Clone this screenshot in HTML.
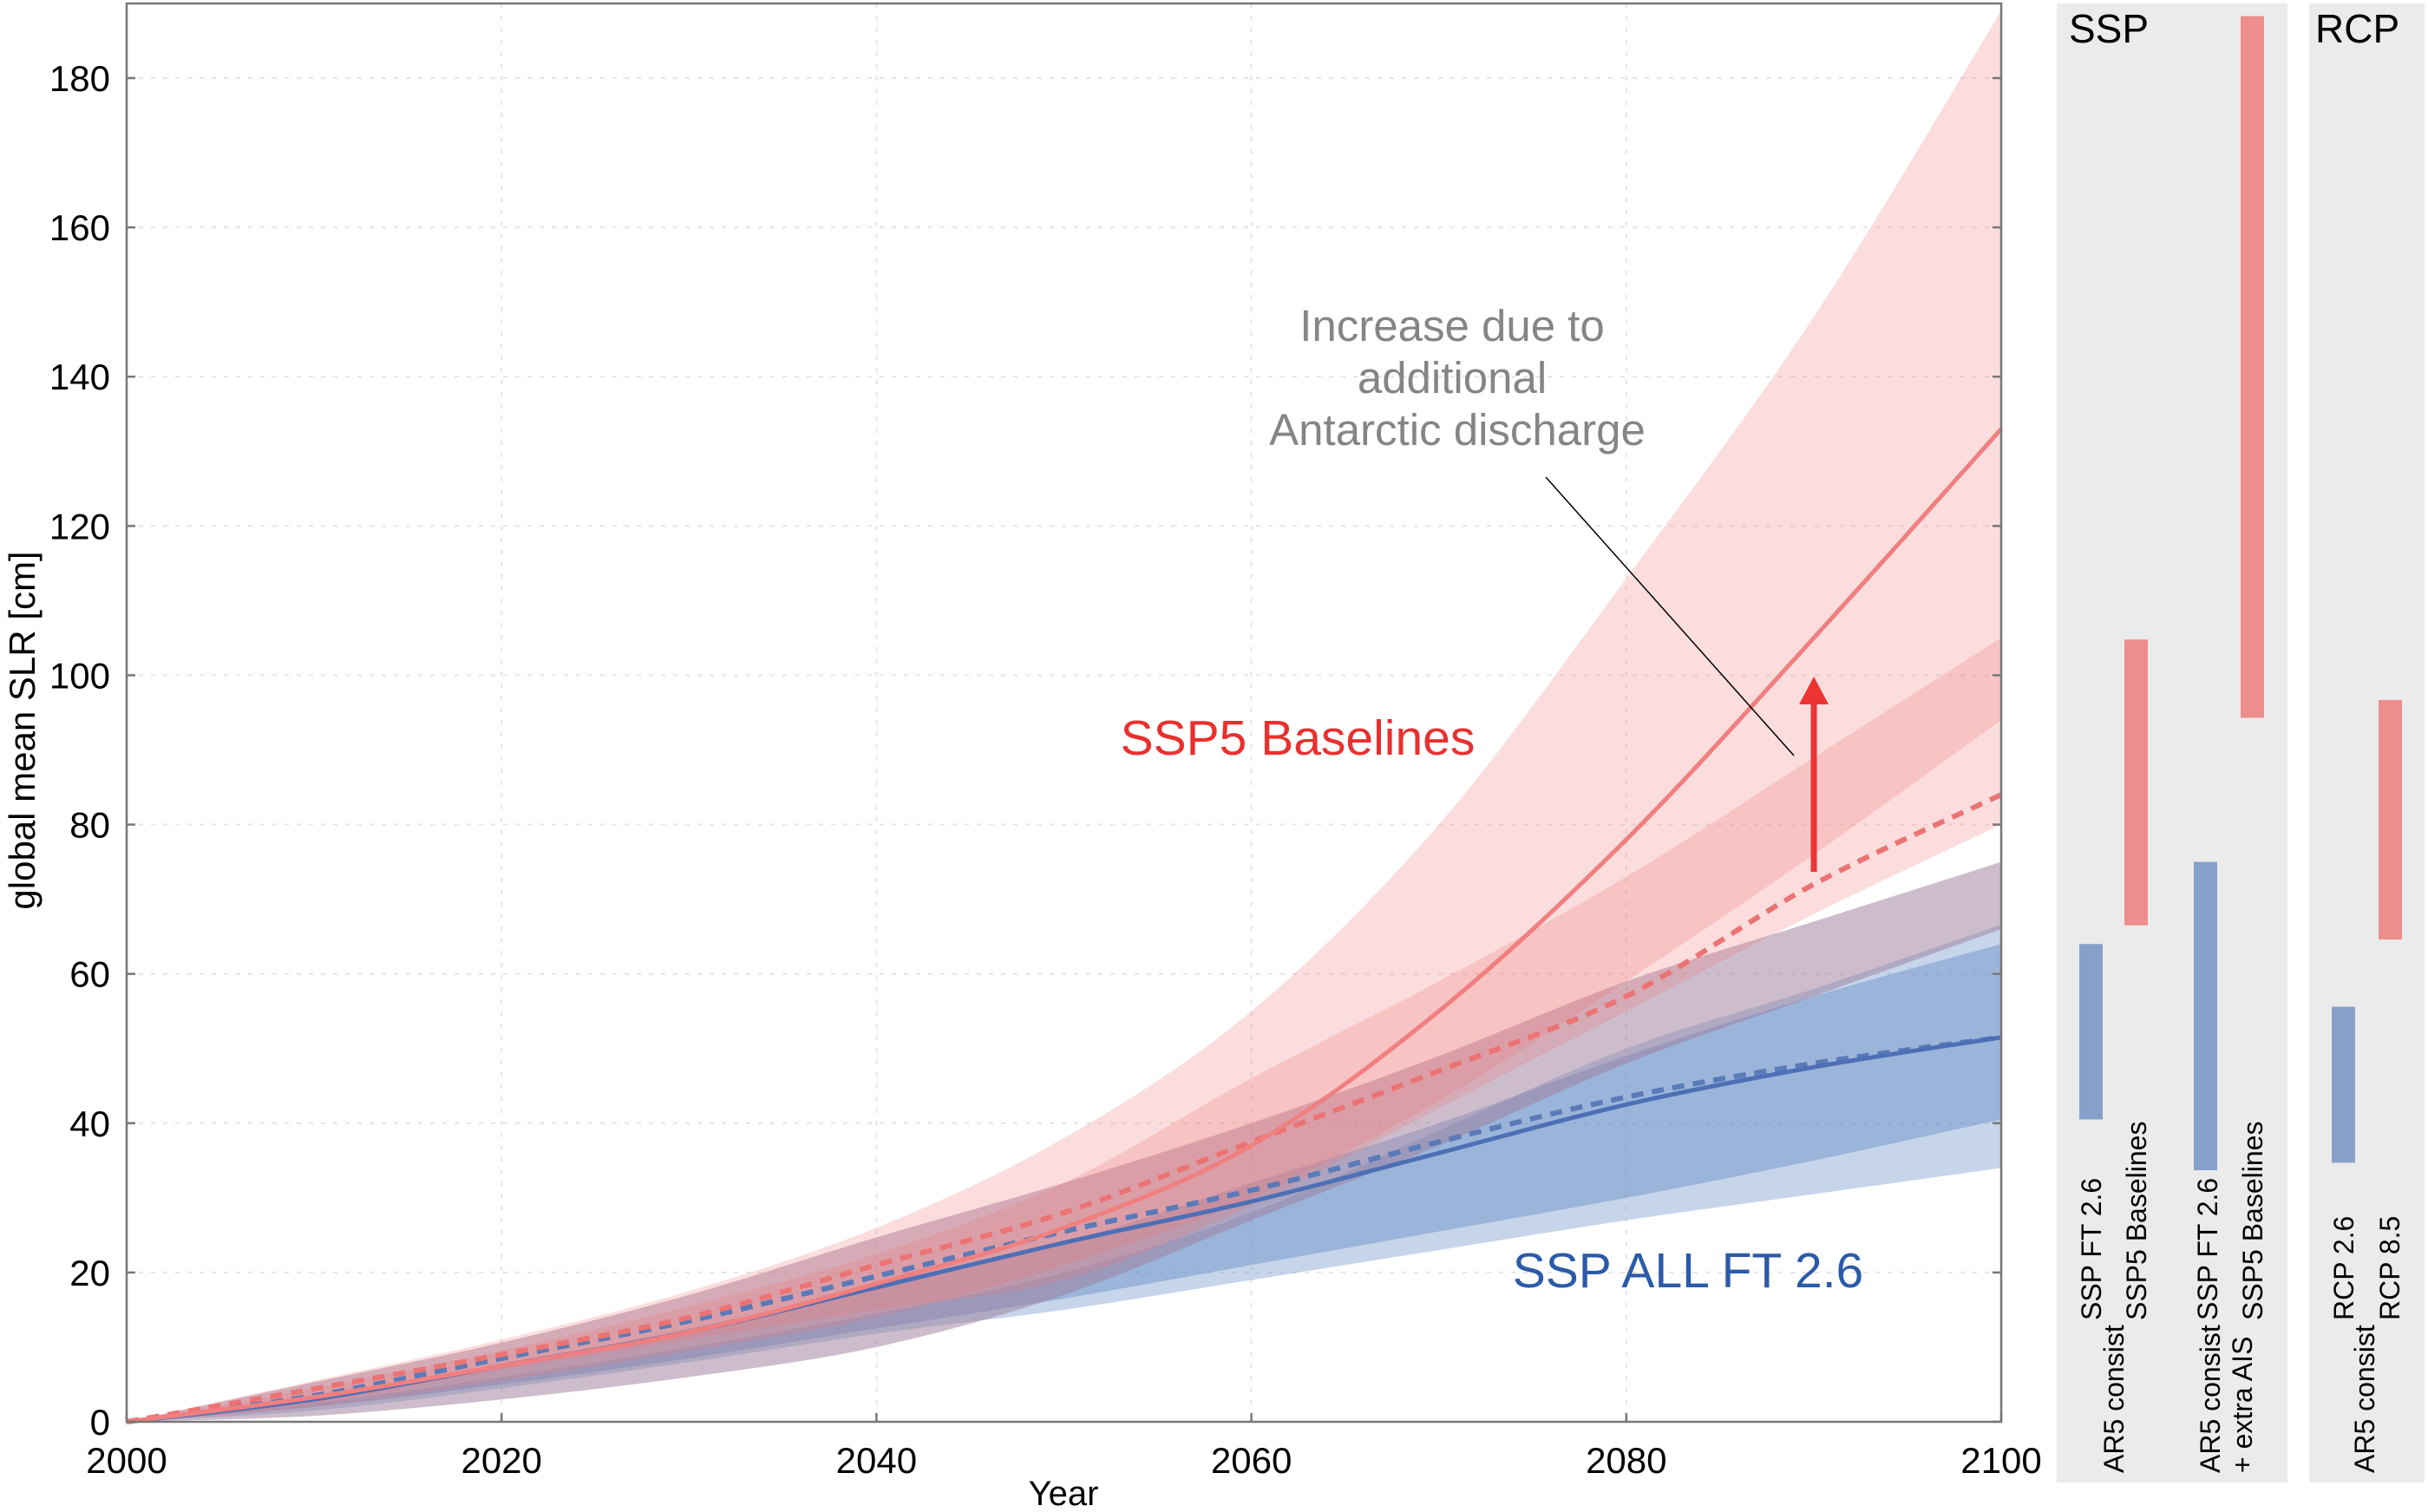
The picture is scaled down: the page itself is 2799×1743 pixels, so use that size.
<!DOCTYPE html>
<html><head><meta charset="utf-8">
<style>
html,body{margin:0;padding:0;background:#fff;}
svg{display:block;font-family:"Liberation Sans",Arial,sans-serif;}
</style></head>
<body>
<svg id="chart" xmlns="http://www.w3.org/2000/svg" width="2799" height="1743" viewBox="0 0 2799 1743">
<rect x="0" y="0" width="2799" height="1743" fill="#fff"/>
<g id="grid"></g>
<g id="bands"></g>
<g id="lines"></g>
<g id="axes"></g>
<g id="side"></g>
<text x="1674" y="393" font-size="51" fill="#858585" text-anchor="middle">Increase due to</text>
<text x="1674" y="453" font-size="51" fill="#858585" text-anchor="middle">additional</text>
<text x="1680" y="513" font-size="51" fill="#858585" text-anchor="middle">Antarctic discharge</text>
<line x1="1782" y1="550" x2="2068" y2="871" stroke="#000" stroke-width="1.5"/>
<line x1="2091" y1="1005" x2="2091" y2="810" stroke="#ee3333" stroke-width="7"/>
<polygon points="2074,812 2108,812 2091,780" fill="#ee3333"/>
<text x="1496" y="870" font-size="57" fill="#e8312f" text-anchor="middle">SSP5 Baselines</text>
<text x="1946" y="1484" font-size="57" fill="#2b5aa8" text-anchor="middle">SSP ALL FT 2.6</text>
<text transform="translate(40,842) rotate(-90)" font-size="42" fill="#000" text-anchor="middle">global mean SLR [cm]</text>
<text x="1226" y="1735" font-size="40" fill="#000" text-anchor="middle">Year</text>
</svg>
<script>
const years = [2000,2010,2020,2030,2040,2050,2060,2070,2080,2090,2100];
const blueOuterUpper = [0,2.5,6,10,14.5,20,28,39,50,58,66.6];
const blueOuterLower = [0,1.5,4.5,8,11.8,15,19,23,27,30.5,34];
const blueInnerUpper = [0,3,7.5,12.5,18,24,32,40,49,57,64];
const blueInnerLower = [0,2,5,8.5,12.5,16.5,21,25.5,30,35,40.5];
const purpleUpper = [0,5.3,10.6,17,24.7,32,40,49,59,67,75];
const purpleLower = [0,0.8,3,6,10,17,27,37,48,57,66];
const redAisUpper = [0,5.5,11,17.5,26,38,55,80,113,148,189];
const redAisLower = [0,2,5.5,9.5,14,21,30,43,59,76,94];
const redNoAisUpper = [0,4.5,9.5,15.5,22.5,32,46,59,73,89,105];
const redNoAisLower = [0,2.5,7,11,15,19,29,42,55,68,80];
const redMedianAis = [0,3.3,7.5,12,18.5,26,37,55,78,105,133];
const redMedianNoAis = [0,4.4,9,14,21,28,37.5,47,57,72,84];
const blueMedian = [0,3,7.5,12,18,24,29.5,36,42.5,47.5,51.5];
const blueMedianAis = [0,3.5,8.5,13.5,19.5,25.5,31,37.5,43.5,48,51.5];
const yTicks = [0,20,40,60,80,100,120,140,160,180];
const xTicks = [2000,2020,2040,2060,2080,2100];
const barLabelsTop = ["SSP FT 2.6","SSP5 Baselines","SSP FT 2.6","SSP5 Baselines","RCP 2.6","RCP 8.5"];
const barLow = [40.5,66.5,33.7,94.3,34.7,64.6];
const barHigh = [64,104.8,75,188.3,55.6,96.7];
const barKind = ["blue","red","blue","red","blue","red"];

const NS="http://www.w3.org/2000/svg";
const X0=146,X1=2307,Y0=1639,PX=(Y0-90)/180;
function sx(yr){return X0+(yr-2000)*(X1-X0)/100;}
function sy(v){return Y0-v*PX;}
function mk(tag,attrs,parent){const e=document.createElementNS(NS,tag);for(const k in attrs)e.setAttribute(k,attrs[k]);parent.appendChild(e);return e;}
function curve(p){
  let d='';
  for(let i=0;i<p.length-1;i++){
    const a=p[Math.max(i-1,0)],b=p[i],c=p[i+1],e=p[Math.min(i+2,p.length-1)];
    const c1=[b[0]+(c[0]-a[0])/6,b[1]+(c[1]-a[1])/6],c2=[c[0]-(e[0]-b[0])/6,c[1]-(e[1]-b[1])/6];
    d+=' C'+c1[0].toFixed(1)+','+c1[1].toFixed(1)+' '+c2[0].toFixed(1)+','+c2[1].toFixed(1)+' '+c[0].toFixed(1)+','+c[1].toFixed(1);
  }
  return d;
}
function smooth(vals){
  const p=vals.map((v,i)=>[sx(years[i]),sy(v)]);
  return 'M'+p[0][0]+','+p[0][1]+curve(p);
}
function bandPath(up,lo){
  const yrsRev=years.slice().reverse();
  const p=lo.slice().reverse().map((v,i)=>[sx(yrsRev[i]),sy(v)]);
  return smooth(up)+' L'+p[0][0]+','+p[0][1]+curve(p)+' Z';
}
const grid=document.getElementById('grid');
yTicks.forEach(t=>{
  const l=mk('line',{x1:X0,x2:X1,y1:sy(t),y2:sy(t),stroke:'#e4e4e4','stroke-width':2,'stroke-dasharray':'5,9'},grid);
  
  
});
xTicks.forEach(t=>{
  const l=mk('line',{x1:sx(t),x2:sx(t),y1:4,y2:Y0,stroke:'#e4e4e4','stroke-width':2,'stroke-dasharray':'5,9'},grid);
  
  
});
const bands=document.getElementById('bands');
const bandDefs=[
 ['blue-outer-band',blueOuterUpper,blueOuterLower,'rgba(120,155,205,0.42)'],
 ['blue-inner-band',blueInnerUpper,blueInnerLower,'rgba(90,130,195,0.40)'],
 ['purple-band',purpleUpper,purpleLower,'rgba(155,123,153,0.5)'],
 ['red-ais-band',redAisUpper,redAisLower,'rgba(240,120,120,0.25)'],
 ['red-no-ais-band',redNoAisUpper,redNoAisLower,'rgba(240,120,120,0.25)']
];
bandDefs.forEach(b=>{
  const p=mk('path',{d:bandPath(b[1],b[2]),fill:b[3]},bands);
  
  
});
const lines=document.getElementById('lines');
const lineDefs=[
 ['blue-median-ais-line',blueMedianAis,'#5a7ab8',6,'14,10'],
 ['blue-median-line',blueMedian,'#4d6fb5',5,null],
 ['red-median-no-ais-line',redMedianNoAis,'#ec7373',6,'14,10'],
 ['red-median-ais-line',redMedianAis,'#f07f7f',5,null]
];
lineDefs.forEach(l=>{
  const a={d:smooth(l[1]),fill:'none',stroke:l[2],'stroke-width':l[3]};
  if(l[4])a['stroke-dasharray']=l[4];
  const p=mk('path',a,lines);
  
  
});
const axes=document.getElementById('axes');
const frame=mk('rect',{x:X0,y:4,width:X1-X0,height:Y0-4,fill:'none',stroke:'#777','stroke-width':2.5},axes);


yTicks.forEach(t=>{
  mk('line',{x1:X0,x2:X0+10,y1:sy(t),y2:sy(t),stroke:'#777','stroke-width':2.5},axes);
  mk('line',{x1:X1-10,x2:X1,y1:sy(t),y2:sy(t),stroke:'#777','stroke-width':2.5},axes);
  const tx=mk('text',{x:127,y:sy(t)+15,'font-size':42,'text-anchor':'end',fill:'#000'},axes);
  tx.textContent=t;
  
  
});
xTicks.forEach(t=>{
  mk('line',{x1:sx(t),x2:sx(t),y1:Y0,y2:Y0-10,stroke:'#777','stroke-width':2.5},axes);
  const tx=mk('text',{x:sx(t),y:1698,'font-size':42,'text-anchor':'middle',fill:'#000'},axes);
  tx.textContent=t;
  
  
});
const side=document.getElementById('side');
const sp=mk('rect',{x:2371,y:4,width:266,height:1705,fill:'#ebebeb'},side);


const rp=mk('rect',{x:2662,y:4,width:133,height:1705,fill:'#ebebeb'},side);


const st=mk('text',{x:2385,y:49,'font-size':46,fill:'#000'},side);
st.textContent='SSP';


const rt=mk('text',{x:2669,y:49,'font-size':46,fill:'#000'},side);
rt.textContent='RCP';


const barX=[2397,2449,2529,2583,2688,2742];
barLow.forEach((lo,i)=>{
  const r=mk('rect',{x:barX[i],y:sy(barHigh[i]),width:27,height:sy(lo)-sy(barHigh[i]),fill:barKind[i]==='blue'?'#87a0c9':'#ed8e8d'},side);
  
  
});
const labCx=[2411,2463,2545,2597,2702,2755];
barLabelsTop.forEach((s,i)=>{
  const t=mk('text',{transform:'translate('+(labCx[i]+11)+',1522) rotate(-90)','font-size':32,fill:'#000'},side);
  t.textContent=s;
  
  
});
const botLabels=[['AR5 consist',2437],['AR5 consist',2548],['+ extra AIS',2585],['AR5 consist',2726]];
botLabels.forEach(b=>{
  const t=mk('text',{transform:'translate('+(b[1]+11)+',1698) rotate(-90)','font-size':32,fill:'#000'},side);
  t.textContent=b[0];
  
  
});
</script>
</body></html>
